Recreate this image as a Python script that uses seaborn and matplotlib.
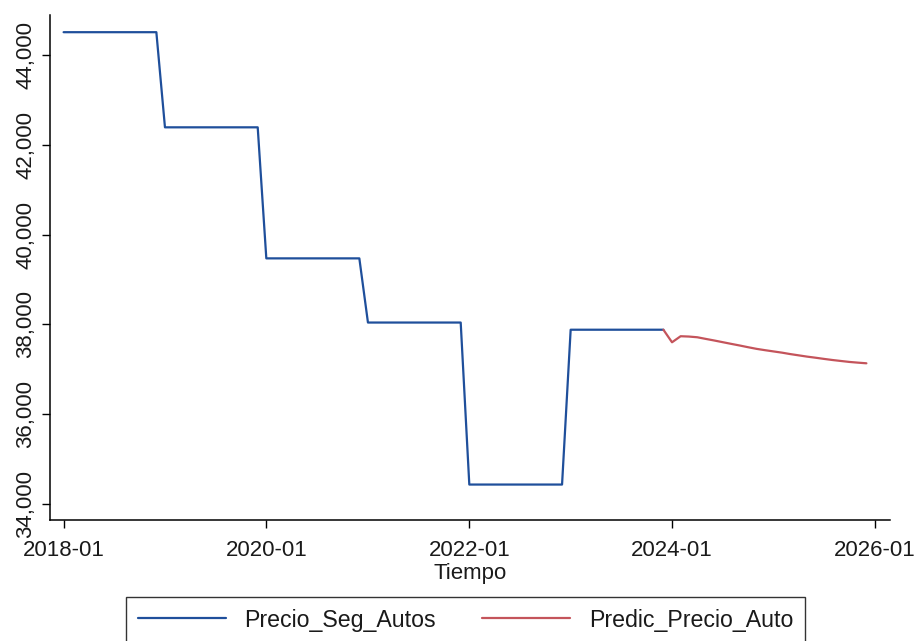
import matplotlib
matplotlib.use("Agg")
import matplotlib.pyplot as plt
import matplotlib.dates as mdates
import matplotlib.ticker as mticker
import numpy as np
import pandas as pd
import seaborn as sns

# Monthly observed price of car insurance (2018-01 .. 2023-12)
precio_seg_autos = [
    44510, 44510, 44510, 44510, 44510, 44510, 44510, 44510, 44510, 44510, 44510, 44510,  # 2018
    42390, 42390, 42390, 42390, 42390, 42390, 42390, 42390, 42390, 42390, 42390, 42390,  # 2019
    39470, 39470, 39470, 39470, 39470, 39470, 39470, 39470, 39470, 39470, 39470, 39470,  # 2020
    38040, 38040, 38040, 38040, 38040, 38040, 38040, 38040, 38040, 38040, 38040, 38040,  # 2021
    34430, 34430, 34430, 34430, 34430, 34430, 34430, 34430, 34430, 34430, 34430, 34430,  # 2022
    37880, 37880, 37880, 37880, 37880, 37880, 37880, 37880, 37880, 37880, 37880, 37880,  # 2023
]
obs_start = "2018-01-01"

# Forecast (2023-12 .. 2025-12)
predic_precio_auto = [
    37880,                                                                                  # 2023-12
    37600, 37735, 37728, 37712, 37676, 37640, 37603, 37565, 37528, 37490, 37453, 37424,  # 2024
    37396, 37368, 37338, 37309, 37281, 37256, 37230, 37205, 37183, 37162, 37146, 37132,  # 2025
]
pred_start = "2023-12-01"

series_names = ["Precio_Seg_Autos", "Predic_Precio_Auto"]
x_tick_dates = ["2018-01-01", "2020-01-01", "2022-01-01", "2024-01-01", "2026-01-01"]
y_ticks = [34000, 36000, 38000, 40000, 42000, 44000]

blue = "#1f4f9b"
red = "#c4545b"

obs = pd.DataFrame({
    "Tiempo": pd.date_range(obs_start, periods=len(precio_seg_autos), freq="MS"),
    "valor": precio_seg_autos,
})
pred = pd.DataFrame({
    "Tiempo": pd.date_range(pred_start, periods=len(predic_precio_auto), freq="MS"),
    "valor": predic_precio_auto,
})

sns.set_theme(style="ticks")
plt.rcParams["font.family"] = ["Liberation Sans", "DejaVu Sans"]

fig = plt.figure(figsize=(9.18, 6.41), dpi=100)
ax = fig.add_axes([50 / 918, 1 - 520 / 641, (890 - 50) / 918, (520 - 15) / 641])

sns.lineplot(data=obs, x="Tiempo", y="valor", ax=ax, color=blue, linewidth=1.6,
             estimator=None, label=series_names[0], legend=False)
sns.lineplot(data=pred, x="Tiempo", y="valor", ax=ax, color=red, linewidth=1.6,
             estimator=None, label=series_names[1], legend=False)

ax.set_xlim(pd.Timestamp("2017-11-13"), pd.Timestamp("2026-02-24"))
ax.set_ylim(33640, 44893)

ax.set_xticks([pd.Timestamp(d) for d in x_tick_dates])
ax.xaxis.set_major_formatter(mdates.DateFormatter("%Y-%m"))
ax.set_yticks(y_ticks)
ax.yaxis.set_major_formatter(mticker.StrMethodFormatter("{x:,.0f}"))

for lab in ax.get_yticklabels():
    lab.set_rotation(90)
    lab.set_va("center")

ax.tick_params(axis="both", labelsize=16, length=6, width=1, color="black",
               labelcolor="#1a1a1a")
ax.tick_params(axis="x", pad=8.5)
ax.tick_params(axis="y", pad=4)

for side in ["top", "right"]:
    ax.spines[side].set_visible(False)
for side in ["left", "bottom"]:
    ax.spines[side].set_color("black")
    ax.spines[side].set_linewidth(1.1)

ax.set_xlabel("Tiempo", fontsize=16, labelpad=1.5, color="#1a1a1a")
ax.set_ylabel("")
ax.grid(False)

handles, labels = ax.get_legend_handles_labels()
leg = fig.legend(handles, labels, loc="upper center", ncol=2,
                 bbox_to_anchor=(465.5 / 918, 1 - 597 / 641), borderaxespad=0,
                 fontsize=16.7, frameon=True, fancybox=False, handlelength=3.8,
                 columnspacing=2.0, handletextpad=0.8, borderpad=0.5,
                 edgecolor="black", labelcolor="#1a1a1a")
leg.get_frame().set_linewidth(1.0)

fig.savefig("out.png", dpi=100)
